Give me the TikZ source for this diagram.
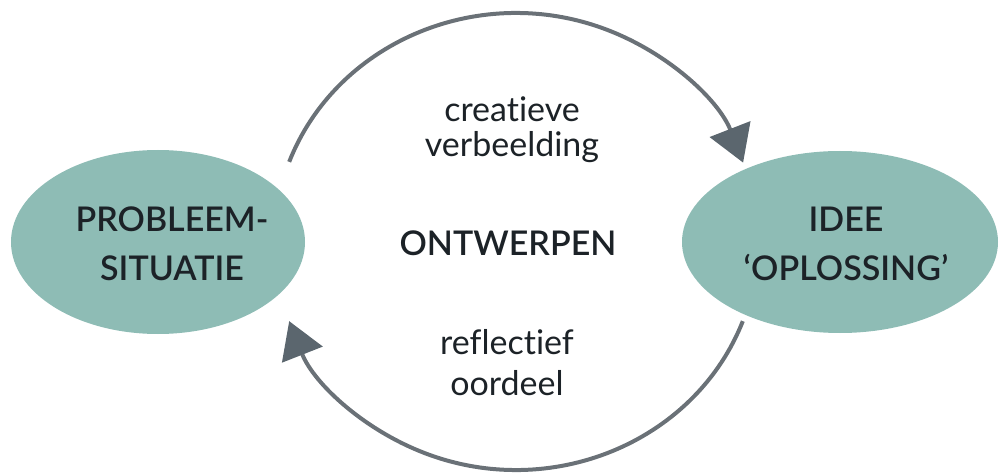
\documentclass[tikz,border=0pt]{standalone}
\usepackage{fontspec}
\setmainfont{Lato}[Ligatures={NoCommon},BoldFont={Lato Semibold}]
\usetikzlibrary{arrows.meta,shapes.geometric,calc}
\definecolor{blobfill}{HTML}{8EBCB5}
\definecolor{inktext}{HTML}{1C2227}
\definecolor{arcgray}{HTML}{6A7177}
\definecolor{tipgray}{HTML}{5B666E}
\tikzset{
  blob/.style={ellipse, fill=blobfill, draw=none, inner sep=0pt},
  captext/.style={align=center, anchor=base, inner sep=0pt, text=inktext,
    font=\fontsize{34}{49}\selectfont\bfseries},
  midcaps/.style={anchor=base, inner sep=0pt, text=inktext,
    font=\fontsize{34}{40}\selectfont\bfseries},
  smalltext/.style={align=center, anchor=base, inner sep=0pt, text=inktext,
    font=\fontsize{34}{35}\selectfont},
  cyclearc/.style={draw=arcgray, line width=4pt,
    -{Triangle[length=36pt,width=43pt,fill=tipgray,color=tipgray]}},
}
\begin{document}
\begin{tikzpicture}[x=1pt,y=-1pt]
  \useasboundingbox (0,0) rectangle (999,473);
  % ellipses
  \node[blob, minimum width=294pt, minimum height=184pt] (L) at (158,242) {};
  \node[blob, minimum width=316pt, minimum height=182pt] (R) at (840,242) {};
  % captions (anchor = baseline of last line)
  \node[captext] (Lt) at (172,280) {PROBLEEM-\\SITUATIE};
  \node[captext] (Rt) at (846,280) {IDEE\\‘OPLOSSING’};
  \node[midcaps] (mid) at (508,255) {ONTWERPEN};
  \node[smalltext] (top) at (512,157) {creatieve\\verbeelding};
  \node[smalltext, font=\fontsize{34}{41}\selectfont] (bot) at (507,395) {reflectief\\oordeel};
  % cycle arcs
  \coordinate (C) at (516,241.5);
  \coordinate (a1) at ($(C)+(200.4:242 and 228.5)$);
  \coordinate (b1) at ($(C)+(20.4:242 and 228.5)$);
  \draw[cyclearc] (a1) arc[start angle=200.4, end angle=339.8, x radius=242, y radius=228.5];
  \draw[cyclearc] (b1) arc[start angle=20.4, end angle=159.6, x radius=242, y radius=228.5];
\end{tikzpicture}
\end{document}
